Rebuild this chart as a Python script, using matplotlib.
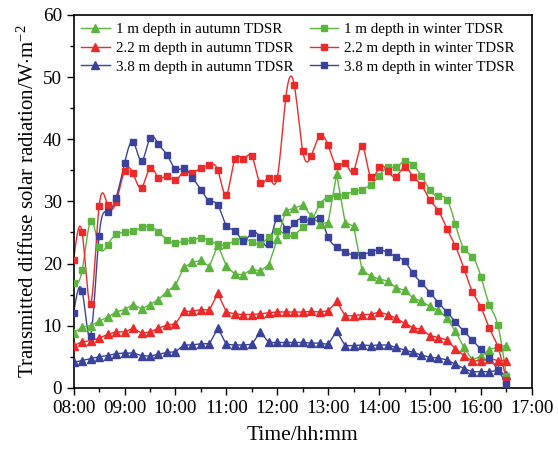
import numpy as np
import pandas as pd
import matplotlib
matplotlib.use("Agg")
import matplotlib.pyplot as plt
from matplotlib.lines import Line2D
from matplotlib.ticker import MultipleLocator

plt.rcParams["font.family"] = ["Liberation Serif", "DejaVu Serif"]
plt.rcParams["mathtext.fontset"] = "custom"
plt.rcParams["mathtext.rm"] = "Liberation Serif"
plt.rcParams["mathtext.it"] = "Liberation Serif:italic"

# 10-minute readings, 08:00 .. 16:30
times = pd.date_range("2000-01-01 08:00", "2000-01-01 16:30", freq="10min")
hours = np.asarray(times.hour + times.minute / 60.0)

autumn_1m = [8.8, 9.8, 10.0, 10.7, 11.4, 12.2, 12.6, 13.4, 12.7, 13.4, 14.2, 15.5, 16.5,
             19.4, 20.2, 20.5, 19.5, 23.0, 19.6, 18.3, 18.2, 19.1, 18.8, 19.8, 23.9, 28.5,
             28.9, 29.4, 27.7, 26.4, 26.6, 34.4, 26.6, 26.0, 18.9, 18.0, 17.5, 17.2, 16.1,
             15.7, 14.5, 13.9, 13.1, 12.5, 11.2, 9.1, 6.5, 4.5, 5.1, 6.1, 6.6, 6.8]
autumn_22m = [6.8, 7.4, 7.6, 8.0, 8.6, 9.0, 9.0, 9.6, 8.8, 9.0, 9.6, 10.1, 10.3,
              12.3, 12.3, 12.6, 12.5, 15.2, 12.2, 11.9, 11.8, 11.8, 11.9, 12.1, 12.2, 12.2,
              12.2, 12.2, 12.3, 12.2, 12.4, 13.9, 11.6, 11.6, 11.8, 11.8, 12.2, 11.8, 11.2,
              10.4, 9.7, 9.4, 8.4, 8.1, 7.7, 6.3, 5.2, 4.3, 4.4, 4.7, 4.4, 4.4]
autumn_38m = [4.1, 4.4, 4.7, 5.0, 5.2, 5.5, 5.6, 5.6, 5.2, 5.1, 5.4, 5.7, 5.8,
              6.9, 6.9, 7.1, 7.1, 9.6, 7.0, 6.9, 6.9, 7.0, 9.0, 7.3, 7.3, 7.3,
              7.3, 7.3, 7.2, 7.2, 7.0, 9.1, 6.8, 6.8, 6.9, 6.8, 6.9, 6.9, 6.5,
              6.1, 5.7, 5.3, 4.9, 4.8, 4.5, 3.8, 3.1, 2.6, 2.6, 2.6, 2.8, 2.0]
winter_1m = [16.8, 18.9, 26.8, 22.7, 23.0, 24.7, 25.0, 25.2, 25.8, 25.9, 25.1, 23.8, 23.3,
             23.6, 23.8, 24.1, 23.7, 23.1, 23.0, 23.7, 24.0, 23.5, 23.2, 24.3, 25.3, 24.6,
             24.6, 25.8, 26.8, 29.5, 30.6, 30.9, 31.1, 31.6, 31.9, 32.7, 34.1, 35.5, 35.5,
             36.5, 35.8, 34.1, 31.8, 30.8, 30.3, 26.3, 22.4, 21.1, 17.9, 13.4, 10.1, 1.9]
winter_22m = [20.6, 25.0, 13.5, 29.2, 29.4, 29.9, 34.9, 34.5, 32.2, 35.4, 33.8, 34.1, 33.4,
              34.8, 34.6, 35.4, 35.8, 35.0, 31.1, 36.8, 36.8, 37.3, 32.9, 33.8, 33.8, 46.6,
              48.8, 38.1, 37.3, 40.5, 39.0, 35.7, 36.1, 34.9, 38.9, 33.9, 35.5, 34.9, 34.0,
              35.5, 34.0, 32.6, 30.2, 28.5, 25.6, 22.8, 19.2, 15.5, 13.0, 9.6, 6.6, 1.3]
winter_38m = [12.1, 15.6, 8.4, 24.5, 28.3, 30.6, 36.1, 39.6, 36.5, 40.2, 39.2, 37.5, 35.2,
              35.3, 33.8, 31.9, 30.1, 29.4, 26.1, 25.3, 23.7, 24.9, 24.2, 23.1, 27.4, 25.6,
              26.5, 27.2, 26.9, 27.4, 24.2, 22.7, 21.8, 21.4, 21.4, 21.9, 22.2, 21.8, 21.1,
              20.4, 18.4, 16.9, 15.3, 13.7, 12.2, 10.6, 9.1, 7.7, 6.2, 4.8, 2.9, 0.7]

GREEN = "#5cb43e"
RED = "#ec2a2a"
BLUE = "#3b429c"

autumn = [("1 m depth in autumn TDSR", autumn_1m, GREEN),
          ("2.2 m depth in autumn TDSR", autumn_22m, RED),
          ("3.8 m depth in autumn TDSR", autumn_38m, BLUE)]
winter = [("1 m depth in winter TDSR", winter_1m, GREEN),
          ("2.2 m depth in winter TDSR", winter_22m, RED),
          ("3.8 m depth in winter TDSR", winter_38m, BLUE)]


def spline_curve(x, y, per_seg=10):
    # natural cubic spline through the points (Origin-style "spline" connector)
    x = np.asarray(x, float)
    y = np.asarray(y, float)
    n = len(x)
    h = x[1] - x[0]
    A = np.zeros((n, n))
    rhs = np.zeros(n)
    A[0, 0] = A[-1, -1] = 1.0
    for i in range(1, n - 1):
        A[i, i - 1], A[i, i], A[i, i + 1] = 1.0, 4.0, 1.0
        rhs[i] = 6.0 * (y[i + 1] - 2 * y[i] + y[i - 1]) / h ** 2
    M = np.linalg.solve(A, rhs)
    xs = np.linspace(x[0], x[-1], (n - 1) * per_seg + 1)
    k = np.clip(np.searchsorted(x, xs, side="right") - 1, 0, n - 2)
    a = x[k + 1] - xs
    b = xs - x[k]
    ys = ((M[k] * a ** 3 + M[k + 1] * b ** 3) / (6 * h)
          + (y[k] / h - M[k] * h / 6) * a + (y[k + 1] / h - M[k + 1] * h / 6) * b)
    return xs, ys


fig = plt.figure(figsize=(5.58, 4.51), dpi=100)
ax = fig.add_axes([0.132, 0.140, 0.821, 0.827])

handles = []
for label, vals, col in autumn:
    ax.plot(hours, vals, color=col, lw=1.0, marker="^", ms=5.8, mec=col, mfc=col, zorder=3)
    handles.append(Line2D([], [], color=col, lw=1.0, marker="^", ms=5.5, label=label))
for label, vals, col in winter:
    xs, ys = spline_curve(hours, vals)
    ax.plot(xs, ys, color=col, lw=1.0, zorder=2)
    ax.plot(hours, vals, ls="none", marker="s", ms=4.8, mec=col, mfc=col, zorder=3)
    handles.append(Line2D([], [], color=col, lw=1.0, marker="s", ms=4.5, label=label))

ax.set_xlim(8, 17)
ax.set_ylim(0, 60)
ax.set_xticks(range(8, 18))
ax.set_xticklabels([f"{h:02d}:00" for h in range(8, 18)])
ax.xaxis.set_minor_locator(MultipleLocator(0.5))
ax.yaxis.set_major_locator(MultipleLocator(10))
ax.yaxis.set_minor_locator(MultipleLocator(5))
ax.tick_params(which="both", direction="out", top=False, right=False, labelsize=13.8)
ax.tick_params(which="major", length=5, width=1.0)
ax.tick_params(which="minor", length=3, width=1.0)
for sp in ax.spines.values():
    sp.set_linewidth(1.2)

ax.set_xlabel("Time/hh:mm", fontsize=15.5, labelpad=7)
ax.set_ylabel(r"Transmitted diffuse solar radiation/W$\cdot$m$^{-2}$", fontsize=15, labelpad=3)

ax.legend(handles=handles, loc="upper left", ncol=2, frameon=False, fontsize=10.8,
          handlelength=1.9, handletextpad=0.4, labelspacing=0.36, columnspacing=1.1,
          borderaxespad=0.2, borderpad=0.3)

fig.savefig("out.png", dpi=100)
